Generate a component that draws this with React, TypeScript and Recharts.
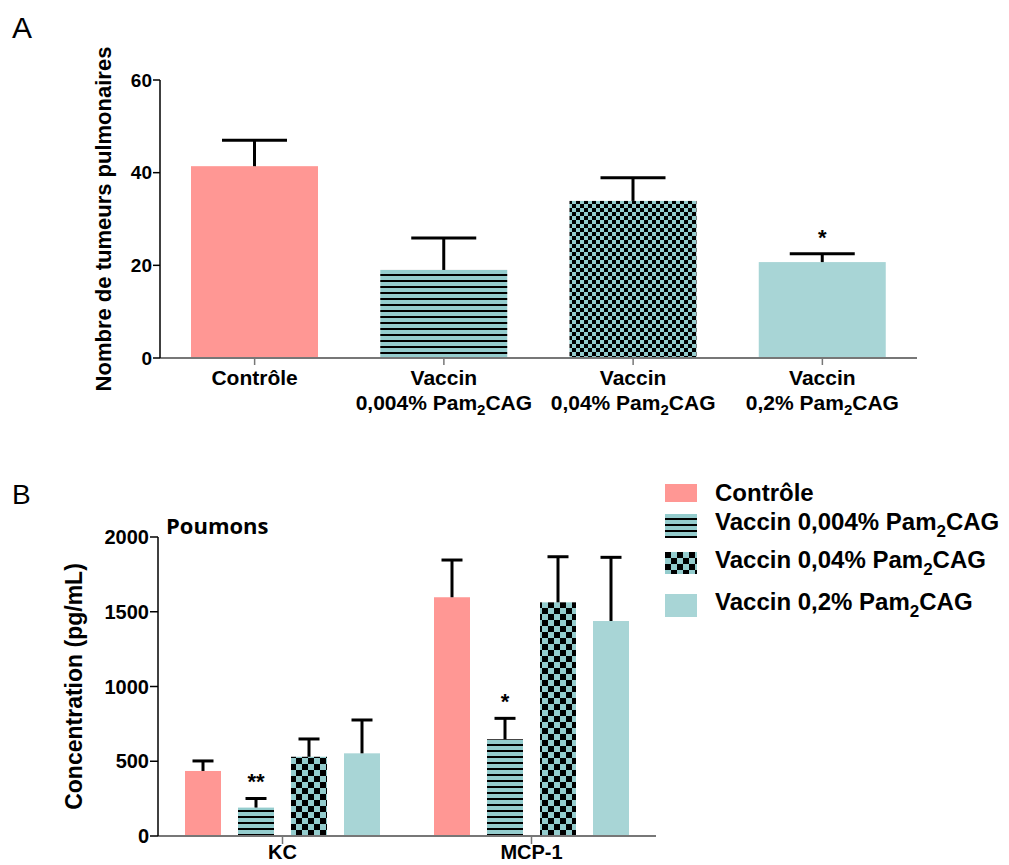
import { BarChart, Bar, XAxis, YAxis, Cell, Legend } from "recharts"

const FONT = "'Liberation Sans', Arial, sans-serif"

// Panel A : nombre de tumeurs pulmonaires
const groupsA = ["Contrôle", "Vaccin 0,004% Pam2CAG", "Vaccin 0,04% Pam2CAG", "Vaccin 0,2% Pam2CAG"]
const tumeurs = [41.4, 19.0, 33.9, 20.7]
const tumeursSem = [5.6, 6.9, 5.0, 1.8]
const tumeursSig = ["", "", "", "*"]
const ticksA = [0, 20, 40, 60]

// Panel B : cytokines dans les poumons
const cytokines = ["KC", "MCP-1"]
const controle = [435, 1597]
const controleSem = [67, 249]
const vac004 = [190, 647]
const vac004Sem = [61, 140]
const vac004Sig = ["**", "*"]
const vac04 = [530, 1563]
const vac04Sem = [119, 305]
const vac2 = [553, 1438]
const vac2Sem = [223, 426]
const ticksB = [0, 500, 1000, 1500, 2000]

const SALMON = "#FF9794"
const TEAL = "#A8D5D6"
const TEAL_P = "#94CCCD"

const fillsA = [SALMON, "url(#stripes)", "url(#checkA)", TEAL]
const fillsB = [SALMON, "url(#stripes)", "url(#checkB)", TEAL]
const keysB = ["controle", "vac004", "vac04", "vac2"]

const rowsA = groupsA.map((name, i) => ({
  name,
  tumeurs: tumeurs[i],
  tumeursSem: tumeursSem[i],
  tumeursSig: tumeursSig[i],
}))

const rowsB = cytokines.map((name, i) => ({
  name,
  controle: controle[i],
  controleSem: controleSem[i],
  vac004: vac004[i],
  vac004Sem: vac004Sem[i],
  vac004Sig: vac004Sig[i],
  vac04: vac04[i],
  vac04Sem: vac04Sem[i],
  vac2: vac2[i],
  vac2Sem: vac2Sem[i],
}))

// "Pam2CAG" -> Pam<sub>2</sub>CAG inside svg text
const svgSub = (s: string, size: number, shift: number) => {
  const i = s.indexOf("Pam2")
  if (i < 0) return s
  return [
    <tspan key="a">{s.slice(0, i + 3)}</tspan>,
    <tspan key="b" fontSize={size} dy={shift}>2</tspan>,
    <tspan key="c" dy={-shift}>{s.slice(i + 4)}</tspan>,
  ]
}

const htmlSub = (s: string) => {
  const i = s.indexOf("Pam2")
  if (i < 0) return s
  return (
    <>
      {s.slice(0, i + 3)}
      <span style={{ fontSize: 17, position: "relative", top: 7 }}>2</span>
      {s.slice(i + 4)}
    </>
  )
}

// bar + upper error bar + significance stars
const errorShape = (semKey: string, sigKey: string, cap: number, gap: number) => (props: any) => {
  const { x, y, width, height, fill, payload, value } = props
  const v = Array.isArray(value) ? value[1] - value[0] : Number(value)
  const sem = payload[semKey] || 0
  const top = v > 0 ? y - (sem * height) / v : y
  const cx = x + width / 2
  const sig = payload[sigKey]
  return (
    <g>
      <rect x={x} y={y} width={width} height={height} fill={fill} />
      <line x1={cx} y1={y} x2={cx} y2={top} stroke="#000" strokeWidth={3} />
      <line x1={cx - cap / 2} y1={top} x2={cx + cap / 2} y2={top} stroke="#000" strokeWidth={3} />
      {sig ? (
        <text x={cx} y={top - gap} textAnchor="middle" fontSize={22} fontWeight="bold" fontFamily={FONT} fill="#000">
          {sig}
        </text>
      ) : null}
    </g>
  )
}

const TickA = (props: any) => {
  const { x, y, payload } = props
  const label: string = payload.value
  const sp = label.indexOf(" ")
  const lines = sp < 0 ? [label] : [label.slice(0, sp), label.slice(sp + 1)]
  return (
    <text x={x} y={y} textAnchor="middle" fontSize={21} fontWeight="bold" fontFamily={FONT} fill="#000">
      {lines.map((ln, i) => (
        <tspan key={i} x={x} dy={i === 0 ? 15 : 25}>
          {svgSub(ln, 15, 5)}
        </tspan>
      ))}
    </text>
  )
}

const legendText = [13, 42, 80, 122]
const legendSwatch = [
  { top: 4, h: 18 },
  { top: 34, h: 24 },
  { top: 72, h: 22 },
  { top: 114, h: 23 },
]

const LegendB = () => (
  <div style={{ position: "relative", width: 344, height: 145, fontFamily: FONT }}>
    {groupsA.map((name, i) => (
      <div key={name}>
        <svg
          width={32}
          height={legendSwatch[i].h}
          style={{ position: "absolute", left: 0, top: legendSwatch[i].top }}
        >
          <rect width={32} height={legendSwatch[i].h} fill={fillsB[i]} />
        </svg>
        <div
          style={{
            position: "absolute",
            left: 50,
            top: legendText[i] - 15,
            fontSize: 24,
            lineHeight: "30px",
            fontWeight: "bold",
            color: "#000",
            whiteSpace: "nowrap",
          }}
        >
          {htmlSub(name)}
        </div>
      </div>
    ))}
  </div>
)

const yTick = (size: number) => ({ fill: "#000", fontSize: size, fontWeight: "bold", fontFamily: FONT })

export default function App() {
  return (
    <div style={{ position: "absolute", left: 0, top: 0, width: 1009, height: 865, background: "#fff", fontFamily: FONT }}>
      <svg width={0} height={0} style={{ position: "absolute" }}>
        <defs>
          <pattern id="stripes" width={6} height={6} patternUnits="userSpaceOnUse">
            <rect width={6} height={6} fill={TEAL_P} shapeRendering="crispEdges" />
            <rect y={4} width={6} height={2} fill="#000" shapeRendering="crispEdges" />
          </pattern>
          <pattern id="checkA" width={8} height={8} patternUnits="userSpaceOnUse">
            <rect width={8} height={8} fill={TEAL_P} shapeRendering="crispEdges" />
            <rect width={4} height={4} fill="#000" shapeRendering="crispEdges" />
            <rect x={4} y={4} width={4} height={4} fill="#000" shapeRendering="crispEdges" />
          </pattern>
          <pattern id="checkB" width={12} height={12} patternUnits="userSpaceOnUse">
            <rect width={12} height={12} fill={TEAL_P} shapeRendering="crispEdges" />
            <rect width={6} height={6} fill="#000" shapeRendering="crispEdges" />
            <rect x={6} y={6} width={6} height={6} fill="#000" shapeRendering="crispEdges" />
          </pattern>
        </defs>
      </svg>

      <div style={{ position: "absolute", left: 12, top: 13, fontSize: 30, lineHeight: "30px" }}>A</div>
      <div style={{ position: "absolute", left: 12, top: 481, fontSize: 28, lineHeight: "28px" }}>B</div>
      <div
        style={{
          position: "absolute",
          left: 166,
          top: 514,
          fontSize: 22,
          lineHeight: "22px",
          fontWeight: "bold",
          fontFamily: "'Open Sans', sans-serif",
        }}
      >
        Poumons
      </div>

      <div style={{ position: "absolute", left: 0, top: 0 }}>
        <BarChart width={940} height={430} data={rowsA} margin={{ top: 80, right: 23, bottom: 0, left: 46 }}>
          <XAxis
            dataKey="name"
            height={72}
            interval={0}
            tick={<TickA />}
            tickSize={7}
            tickMargin={5}
            axisLine={{ stroke: "#777", strokeWidth: 2 }}
            tickLine={{ stroke: "#777", strokeWidth: 1.5 }}
          />
          <YAxis
            width={114}
            domain={[0, 60]}
            ticks={ticksA}
            tick={yTick(19)}
            tickSize={7}
            tickMargin={1}
            axisLine={{ stroke: "#000", strokeWidth: 1.5 }}
            tickLine={{ stroke: "#000", strokeWidth: 1.5 }}
            label={{
              value: "Nombre de tumeurs pulmonaires",
              angle: -90,
              position: "center",
              fontSize: 22,
              fontWeight: "bold",
              fill: "#000",
              fontFamily: FONT,
            }}
          />
          <Bar
            dataKey="tumeurs"
            barSize={127}
            isAnimationActive={false}
            shape={errorShape("tumeursSem", "tumeursSig", 65, 9)}
          >
            {rowsA.map((r, i) => (
              <Cell key={r.name} fill={fillsA[i]} />
            ))}
          </Bar>
        </BarChart>
      </div>

      <div style={{ position: "absolute", left: -10, top: 440 }}>
        <BarChart
          width={1019}
          height={425}
          data={rowsB}
          barGap={17}
          margin={{ top: 97, right: 353, bottom: 0, left: 0 }}
        >
          <XAxis
            dataKey="name"
            height={29}
            interval={0}
            tick={{ fill: "#000", fontSize: 20, fontWeight: "bold", fontFamily: FONT }}
            tickSize={8}
            tickMargin={1}
            axisLine={{ stroke: "#777", strokeWidth: 2 }}
            tickLine={{ stroke: "#777", strokeWidth: 1.5 }}
          />
          <YAxis
            width={168}
            domain={[0, 2000]}
            ticks={ticksB}
            tick={yTick(20)}
            tickSize={8}
            tickMargin={1}
            axisLine={{ stroke: "#000", strokeWidth: 1.5 }}
            tickLine={{ stroke: "#000", strokeWidth: 1.5 }}
            label={{
              value: "Concentration (pg/mL)",
              angle: -90,
              position: "center",
              fontSize: 23,
              fontWeight: "bold",
              fill: "#000",
              fontFamily: FONT,
            }}
          />
          {keysB.map((key, i) => (
            <Bar
              key={key}
              dataKey={key}
              name={groupsA[i]}
              fill={fillsB[i]}
              barSize={36}
              isAnimationActive={false}
              shape={errorShape(key + "Sem", key + "Sig", 21, 9)}
            />
          ))}
          <Legend
            layout="vertical"
            align="center"
            verticalAlign="middle"
            wrapperStyle={{ left: 675, top: 40, width: 344, height: 145 }}
            content={() => <LegendB />}
          />
        </BarChart>
      </div>
    </div>
  )
}
